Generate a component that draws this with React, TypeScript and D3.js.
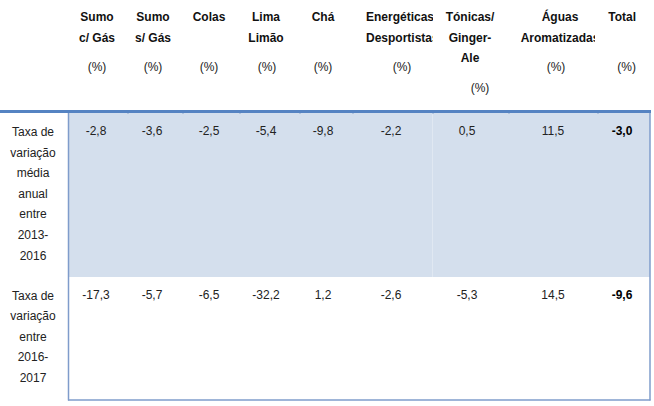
import React from "react";
import * as d3 from "d3";

const headers: string[][] = [
  ["Sumo", "c/ Gás"],
  ["Sumo", "s/ Gás"],
  ["Colas", ""],
  ["Lima", "Limão"],
  ["Chá", ""],
  ["Energéticas", "Desportistas"],
  ["Tónicas/", "Ginger-", "Ale"],
  ["Águas", "Aromatizadas"],
  ["Total", ""],
];
const unitLabel = "(%)";
const rowLabels: string[][] = [
  ["Taxa de", "variação", "média", "anual", "entre", "2013-", "2016"],
  ["Taxa de", "variação", "entre", "2016-", "2017"],
];
const row1Values: string[] = ["-2,8", "-3,6", "-2,5", "-5,4", "-9,8", "-2,2", "0,5", "11,5", "-3,0"];
const row2Values: string[] = ["-17,3", "-5,7", "-6,5", "-32,2", "1,2", "-2,6", "-5,3", "14,5", "-9,6"];

const W = 654;
const H = 406;
const FONT = "'Liberation Sans', Arial, sans-serif";

export default function App() {
  const cols = d3.range(headers.length);
  const headerX = d3.scaleOrdinal<number, number>().domain(cols).range([97, 153, 209, 266, 323, 366, 470, 560, 636]);
  const headerAnchor = d3.scaleOrdinal<number, string>().domain(cols).range(["middle", "middle", "middle", "middle", "middle", "start", "middle", "middle", "end"]);
  const unitX = d3.scaleOrdinal<number, number>().domain(cols).range([97, 153, 209, 267, 323, 402, 480, 556, 636]);
  const dataX = d3.scaleOrdinal<number, number>().domain(cols).range([96, 152, 209, 266, 323, 391, 467, 553, 622]);
  const clipRight = d3.scaleOrdinal<number, number>().domain(cols).range([130, 185, 240, 300, 352, 433, 508, 595, 648]);
  const lineY = d3.scaleLinear().domain([0, 1]).range([21, 41.6]);
  const rowLineY1 = d3.scaleLinear().domain([0, 1]).range([136, 156.6]);
  const rowLineY2 = d3.scaleLinear().domain([0, 1]).range([299.5, 320]);
  const dividers = [128, 183, 240, 300, 353, 433, 509, 598];
  const lastCol = cols.length - 1;

  return (
    <svg width={W} height={H} style={{ position: "absolute", left: 0, top: 0 }} fontFamily={FONT}>
      <defs>
        {cols.map((c) => (
          <clipPath id={`clip${c}`} key={c}>
            <rect x={clipRight(c) - 100} y={0} width={100} height={105} />
          </clipPath>
        ))}
      </defs>
      <rect x={0} y={0} width={W} height={H} fill="#fff" />
      {/* shaded first data row */}
      <rect x={69} y={112} width={581} height={165} fill="#d4dfed" />
      <line x1={432.5} x2={432.5} y1={113} y2={277} stroke="#e0e8f2" strokeWidth={1} />
      {dividers.map((d) => (
        <line key={d} x1={d} x2={d} y1={110} y2={114} stroke="#8fa9cf" strokeWidth={1} />
      ))}
      {/* borders */}
      <line x1={68.5} x2={68.5} y1={112} y2={400.5} stroke="#7f9ccb" strokeWidth={1.5} />
      <line x1={68} x2={650.5} y1={400} y2={400} stroke="#7f9ccb" strokeWidth={1.5} />
      <line x1={650} x2={650} y1={112} y2={400.5} stroke="#7f9ccb" strokeWidth={1.5} />
      <line x1={0} x2={651} y1={111.5} y2={111.5} stroke="#5583c2" strokeWidth={3} />

      {/* headers */}
      {headers.map((lines, c) => {
        const n = Math.max(2, lines.length);
        return (
          <g key={c} clipPath={`url(#clip${c})`} fontSize={12} fontWeight="bold" fill="#111">
            {lines.map((t, i) =>
              t ? (
                <text key={i} x={headerX(c)} y={lineY(i)} textAnchor={headerAnchor(c)}>
                  {t}
                </text>
              ) : null
            )}
            <text
              x={unitX(c)}
              y={lineY(n - 1) + 29.5}
              textAnchor={c === lastCol ? "end" : "middle"}
              fontWeight="normal"
              fill="#222"
            >
              {unitLabel}
            </text>
          </g>
        );
      })}

      {/* row labels */}
      <g fontSize={12} fill="#222" textAnchor="middle">
        {rowLabels[0].map((t, i) => (
          <text key={"a" + i} x={33} y={rowLineY1(i)}>
            {t}
          </text>
        ))}
        {rowLabels[1].map((t, i) => (
          <text key={"b" + i} x={33} y={rowLineY2(i)}>
            {t}
          </text>
        ))}
      </g>

      {/* values */}
      <g fontSize={12} textAnchor="middle">
        {row1Values.map((v, c) => (
          <text key={"r1" + c} x={dataX(c)} y={135} fontWeight={c === lastCol ? "bold" : "normal"} fill={c === lastCol ? "#000" : "#222"}>
            {v}
          </text>
        ))}
        {row2Values.map((v, c) => (
          <text key={"r2" + c} x={dataX(c)} y={299} fontWeight={c === lastCol ? "bold" : "normal"} fill={c === lastCol ? "#000" : "#222"}>
            {v}
          </text>
        ))}
      </g>
    </svg>
  );
}
